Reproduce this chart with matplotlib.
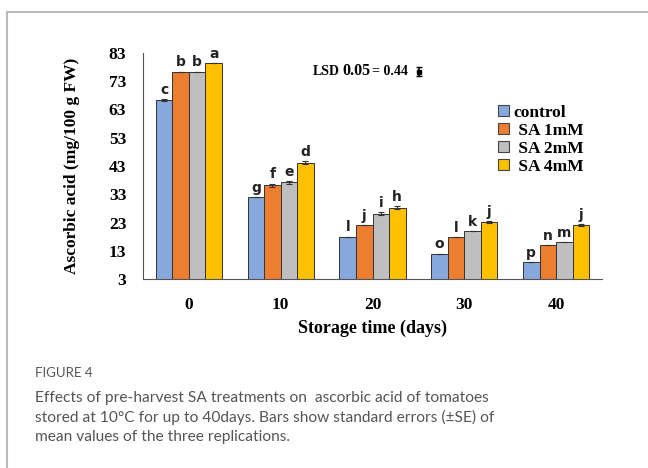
import matplotlib
matplotlib.use("Agg")
import matplotlib.pyplot as plt
from matplotlib.lines import Line2D
import numpy as np

# data
days = ["0", "10", "20", "30", "40"]
treatments = ["control", " SA 1mM", " SA 2mM", " SA 4mM"]
control = [66.4, 32.1, 18.0, 12.0, 8.9]
sa_1mm = [76.4, 36.2, 22.0, 17.9, 14.9]
sa_2mm = [76.4, 37.2, 26.1, 20.0, 16.0]
sa_4mm = [79.5, 44.2, 28.2, 23.1, 22.1]
se_control = [0.35, 0.0, 0.0, 0.0, 0.0]
se_1mm = [0.0, 0.55, 0.0, 0.0, 0.0]
se_2mm = [0.0, 0.5, 0.5, 0.0, 0.0]
se_4mm = [0.0, 0.5, 0.5, 0.4, 0.4]
letters = [["c", "g", "l", "o", "p"],
           ["b", "f", "j", "l", "n"],
           ["b", "e", "i", "k", "m"],
           ["a", "d", "h", "j", "j"]]

COLORS = ["#86a8dc", "#ed7d31", "#bfbfbf", "#ffc000"]
SERIF = "Liberation Serif"
CAP = "#555555"

fig = plt.figure(figsize=(6.48, 4.68), dpi=100)
ax = fig.add_axes([0.2207, 0.4038, 0.7083, 0.483])

x = np.arange(len(days))
w = 0.18
series = [control, sa_1mm, sa_2mm, sa_4mm]
errs = [se_control, se_1mm, se_2mm, se_4mm]
for i, (vals, err) in enumerate(zip(series, errs)):
    pos = x + (i - 1.5) * w
    ax.bar(pos, np.array(vals) - 3, bottom=3, width=w, color=COLORS[i],
           edgecolor="#333333", linewidth=0.7, label=treatments[i],
           yerr=err, error_kw=dict(ecolor="#333333", elinewidth=0.8, capsize=2, capthick=0.8))
    for p, v, e, lt in zip(pos, vals, err, letters[i]):
        ax.text(p, v + e + 0.8, lt, ha="center", va="bottom", fontsize=10,
                fontweight="bold", color="#222222")

ax.set_xlim(-0.5, len(days) - 0.5)
ax.set_ylim(3, 83)
ax.set_yticks(np.arange(3, 84, 10))
ax.set_xticks(x)
ax.set_xticklabels(days)
ax.tick_params(length=0, labelsize=12.5)
ax.tick_params(axis="y", pad=12)
ax.tick_params(axis="x", pad=13)
for lab in ax.get_xticklabels() + ax.get_yticklabels():
    lab.set_fontfamily(SERIF)
    lab.set_fontweight("bold")
ax.spines[["top", "right"]].set_visible(False)
ax.spines["left"].set_color("#555555")
ax.spines["bottom"].set_color("#555555")

ax.set_xlabel("Storage time (days)", fontsize=13, family=SERIF, fontweight="bold", labelpad=5)
ax.set_ylabel("Ascorbic acid (mg/100 g FW)", fontsize=12.5, family=SERIF, fontweight="bold", labelpad=21)

# LSD note
ax.text(0.370, 0.92, "LSD", transform=ax.transAxes, fontsize=10, family=SERIF,
        fontweight="bold", va="center")
ax.text(0.435, 0.92, "0.05", transform=ax.transAxes, fontsize=11.5, family=SERIF,
        fontweight="bold", va="center")
ax.text(0.499, 0.918, "= 0.44", transform=ax.transAxes, fontsize=10, family=SERIF,
        fontweight="bold", va="center")
ax.errorbar([0.602], [0.918], yerr=[0.022], transform=ax.transAxes, fmt="s", ms=3.5,
            color="black", capsize=2.5, elinewidth=1.2)

leg = ax.legend(loc="upper left", bbox_to_anchor=(0.755, 0.81), frameon=False,
                prop=dict(family=SERIF, weight="bold", size=12.5),
                handlelength=0.6, handleheight=0.6, handletextpad=0.3,
                labelspacing=0.12, borderpad=0)
for h in leg.legend_handles:
    h.set_linewidth(0.8)
    h.set_edgecolor("#444444")

# figure frame + caption
fig.add_artist(Line2D([0.011, 0.011], [0.0, 0.974], color="#bbbbbb", lw=1.5))
fig.add_artist(Line2D([0.011, 1.0], [0.974, 0.974], color="#bbbbbb", lw=1.5))
fig.text(0.054, 0.203, "FIGURE 4", fontsize=9.5, color=CAP, family="Lato", va="center")
caption = ("Effects of pre-harvest SA treatments on  ascorbic acid of tomatoes\n"
           "stored at 10°C for up to 40days. Bars show standard errors (\u00b1SE) of\n"
           "mean values of the three replications.")
fig.text(0.054, 0.165, caption, fontsize=11.2, color=CAP, family="Lato",
         va="top", linespacing=1.42)

fig.savefig("out.png", dpi=100, facecolor="white")
